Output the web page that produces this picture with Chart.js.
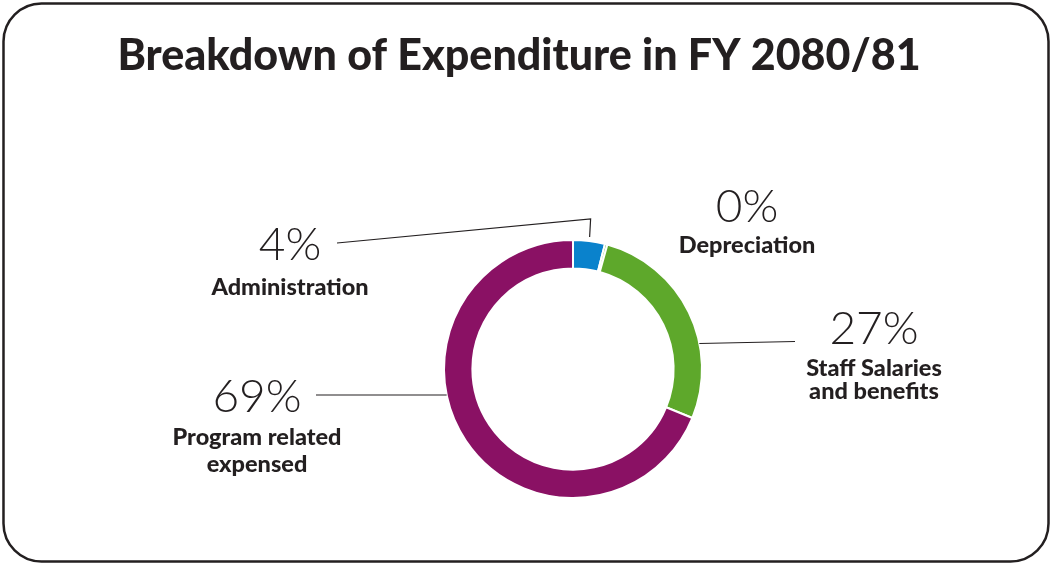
<!DOCTYPE html>
<html>
<head>
<meta charset="utf-8">
<script src="https://cdn.jsdelivr.net/npm/chart.js@4.4.1/dist/chart.umd.min.js"></script>
<style>
  html, body { margin: 0; padding: 0; background: #fff; }
  #wrap { width: 1052px; height: 565px; position: relative; }
</style>
</head>
<body>
<div id="wrap"><canvas id="chart" width="1052" height="565"></canvas></div>
<script>
// data
const title = "Breakdown of Expenditure in FY 2080/81";
const categories = ["Administration", "Depreciation", "Staff Salaries and benefits", "Program related expensed"];
const shares = [4, 0.3, 27, 69];
const percentLabels = ["4%", "0%", "27%", "69%"];
const labelLines = [["Administration"], ["Depreciation"], ["Staff Salaries", "and benefits"], ["Program related", "expensed"]];
const sliceColors = ["#0A82CC", "#5EA82B", "#5EA82B", "#8A1164"];

const ink = "#231F20";

// label placement relative to doughnut centre (px): percentage, first name line, line step
const labelPos = [
    { dx: -283, dy: -124, nameDy: 42, step: 24 },
    { dx: 174, dy: -162, nameDy: 38, step: 24 },
    { dx: 301, dy: -40, nameDy: 39, step: 23 },
    { dx: -316, dy: 28, nameDy: 40, step: 27 },
];

function roundRect(ctx, x, y, w, h, r) {
    ctx.beginPath();
    ctx.moveTo(x + r, y);
    ctx.lineTo(x + w - r, y);
    ctx.arcTo(x + w, y, x + w, y + r, r);
    ctx.lineTo(x + w, y + h - r);
    ctx.arcTo(x + w, y + h, x + w - r, y + h, r);
    ctx.lineTo(x + r, y + h);
    ctx.arcTo(x, y + h, x, y + h - r, r);
    ctx.lineTo(x, y + r);
    ctx.arcTo(x, y, x + r, y, r);
    ctx.closePath();
}

const decorPlugin = {
    id: "decor",
    beforeDraw(chart) {
        const ctx = chart.ctx;
        ctx.save();
        ctx.fillStyle = "#fff";
        ctx.fillRect(0, 0, chart.width, chart.height);
        roundRect(ctx, 3.5, 3.5, chart.width - 7, chart.height - 7, 38);
        ctx.lineWidth = 2.5;
        ctx.strokeStyle = ink;
        ctx.stroke();
        ctx.restore();
    },
    afterDraw(chart) {
        const ctx = chart.ctx;
        const meta = chart.getDatasetMeta(0);
        const arc0 = meta.data[0];
        const cx = arc0.x, cy = arc0.y, R = arc0.outerRadius;

        ctx.save();
        // title
        ctx.fillStyle = ink;
        ctx.textAlign = "center";
        ctx.textBaseline = "middle";
        ctx.font = "900 43px Lato, 'Open Sans', sans-serif";
        ctx.fillText(title, 519, 56);

        // leader lines
        ctx.strokeStyle = ink;
        ctx.lineWidth = 1.2;
        // administration: from slice middle, up, then to label
        const a = meta.data[0];
        const mid = (a.startAngle + a.endAngle) / 2;
        const ax = cx + Math.cos(mid) * (R + 4);
        const ay = cy + Math.sin(mid) * (R + 4);
        ctx.beginPath();
        ctx.moveTo(ax, ay);
        ctx.lineTo(ax + 1, cy - R - 21);
        ctx.lineTo(cx - 236, cy - 126);
        ctx.stroke();
        // staff salaries: horizontal from outer edge
        let yy = cy - 26;
        let ex = cx + Math.sqrt(R * R - 26 * 26);
        ctx.beginPath();
        ctx.moveTo(ex, yy + 0.5);
        ctx.lineTo(cx + labelPos[2].dx - 79, yy - 1.5);
        ctx.stroke();
        // program related
        yy = cy + 26;
        ex = cx - Math.sqrt(R * R - 26 * 26);
        ctx.beginPath();
        ctx.moveTo(ex, yy);
        ctx.lineTo(cx + labelPos[3].dx + 59, yy);
        ctx.stroke();

        // percentages and names
        labelPos.forEach((p, i) => {
            const x = cx + p.dx, y = cy + p.dy;
            ctx.fillStyle = ink;
            ctx.font = "300 46px Lato, 'Open Sans', sans-serif";
            ctx.fillText(percentLabels[i], x, y);
            ctx.font = "900 23.5px Lato, 'Open Sans', sans-serif";
            labelLines[i].forEach((t, j) => {
                ctx.fillText(t, x, y + p.nameDy + j * p.step);
            });
        });
        ctx.restore();
    },
};

new Chart(document.getElementById("chart"), {
    type: "doughnut",
    data: {
        labels: categories,
        datasets: [{
            data: shares,
            backgroundColor: sliceColors,
            borderColor: "#fff",
            borderWidth: 2,
        }],
    },
    options: {
        responsive: false,
        animation: false,
        cutout: "78%",
        layout: {
            padding: { top: 239, bottom: 66, left: 443, right: 349 },
        },
        plugins: {
            legend: { display: false },
            tooltip: { enabled: false },
        },
    },
    plugins: [decorPlugin],
});
</script>
</body>
</html>
